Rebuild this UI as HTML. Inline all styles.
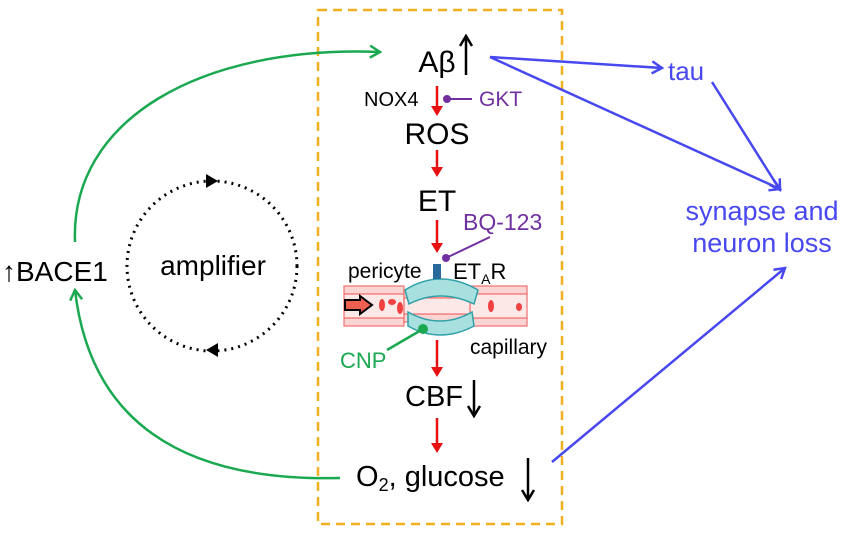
<!DOCTYPE html>
<html><head><style>body{margin:0;background:#fff}svg{display:block}text{font-family:"Liberation Sans",sans-serif}</style></head>
<body>
<svg width="853" height="534" viewBox="0 0 853 534">
<defs>
<marker id="r" markerWidth="10" markerHeight="12" refX="8" refY="6" orient="auto" markerUnits="userSpaceOnUse"><path d="M0,0 L10,6 L0,12 Z" fill="#e81010"/></marker>
<marker id="g" markerWidth="14" markerHeight="14" refX="12" refY="7" orient="auto" markerUnits="userSpaceOnUse"><path d="M2,1 L12,7 L2,13" fill="none" stroke="#1aa850" stroke-width="2.5"/></marker>
<marker id="b" markerWidth="14" markerHeight="14" refX="12" refY="7" orient="auto" markerUnits="userSpaceOnUse"><path d="M2,1 L12,7 L2,13" fill="none" stroke="#4848f0" stroke-width="2.5"/></marker>
<marker id="k" markerWidth="14" markerHeight="14" refX="12" refY="7" orient="auto" markerUnits="userSpaceOnUse"><path d="M2,1 L12,7 L2,13" fill="none" stroke="#000" stroke-width="2.5"/></marker>
</defs>
<rect x="318" y="10" width="244" height="514" fill="none" stroke="#f0b020" stroke-width="2.5" stroke-dasharray="9,6"/>
<path d="M75,242 C70,120 200,45 380,52" fill="none" stroke="#1aa850" stroke-width="2.5" marker-end="url(#g)"/>
<path d="M340,478 C180,482 90,420 75,290" fill="none" stroke="#1aa850" stroke-width="2.5" marker-end="url(#g)"/>
<circle cx="212" cy="266" r="85" fill="none" stroke="#000" stroke-width="3" stroke-dasharray="2,5"/>
<path d="M206,174 L218,181 L206,188 Z" fill="#000"/>
<path d="M218,343 L206,350 L218,357 Z" fill="#000"/>
<text x="213" y="275" font-size="28" text-anchor="middle">amplifier</text>
<text x="2" y="281" font-size="28">↑BACE1</text>
<text x="437" y="72" font-size="30" text-anchor="middle">Aβ</text>
<line x1="466" y1="75" x2="466" y2="36" stroke="#000" stroke-width="2.5" marker-end="url(#k)"/>
<text x="364" y="106" font-size="20">NOX4</text>
<line x1="437" y1="86" x2="437" y2="114" stroke="#e81010" stroke-width="2.5" marker-end="url(#r)"/>
<line x1="447" y1="99" x2="472" y2="99" stroke="#7030a0" stroke-width="2"/><circle cx="447" cy="99" r="4" fill="#7030a0"/>
<text x="479" y="106" font-size="21" fill="#7030a0">GKT</text>
<text x="437" y="144" font-size="30" text-anchor="middle">ROS</text>
<line x1="437" y1="150" x2="437" y2="175" stroke="#e81010" stroke-width="2.5" marker-end="url(#r)"/>
<text x="437" y="211" font-size="30" text-anchor="middle">ET</text>
<line x1="437" y1="220" x2="437" y2="251" stroke="#e81010" stroke-width="2.5" marker-end="url(#r)"/>
<text x="463" y="230" font-size="23" fill="#7030a0">BQ-123</text>
<line x1="446" y1="258" x2="490" y2="237" stroke="#7030a0" stroke-width="2"/><circle cx="446" cy="258" r="4" fill="#7030a0"/>
<text x="348" y="278" font-size="21">pericyte</text>
<text x="453" y="279" font-size="22">ET<tspan font-size="14" dy="5">A</tspan><tspan dy="-5">R</tspan></text>
<g stroke="#f07070" stroke-width="1.2">
<rect x="344" y="286" width="60" height="8" fill="#fbd4d4"/><rect x="344" y="318" width="60" height="8" fill="#fbd4d4"/>
<rect x="344" y="294" width="60" height="24" fill="#fde8e8"/>
<rect x="470" y="286" width="57" height="8" fill="#fbd4d4"/><rect x="470" y="318" width="57" height="8" fill="#fbd4d4"/>
<rect x="470" y="294" width="57" height="24" fill="#fde8e8"/>
<rect x="404" y="290" width="66" height="8" fill="#fbd4d4"/><rect x="404" y="314" width="66" height="8" fill="#fbd4d4"/>
<rect x="404" y="298" width="66" height="16" fill="#fde8e8"/>
</g>
<g fill="#f04040"><ellipse cx="382" cy="305" rx="3" ry="6"/><ellipse cx="392" cy="302" rx="4" ry="3"/><ellipse cx="400" cy="308" rx="3" ry="6"/><ellipse cx="491" cy="306" rx="3" ry="6"/><ellipse cx="519" cy="307" rx="3" ry="4"/></g>
<path d="M345,300 H360 V296 L372,305 L360,314 V310 H345 Z" fill="#f06050" stroke="#000" stroke-width="2"/>
<path d="M405,290 Q440,268 478,290 L474,304 Q440,288 409,304 Z" fill="#a8e0e0" stroke="#30a0a8" stroke-width="1.5"/>
<path d="M408,312 Q440,330 472,312 L474,326 Q440,344 408,326 Z" fill="#a8e0e0" stroke="#30a0a8" stroke-width="1.5"/>
<rect x="433" y="264" width="8" height="15" fill="#2a6a9a"/>
<line x1="423" y1="329" x2="387" y2="350" stroke="#1aa850" stroke-width="2.5"/><circle cx="423" cy="329" r="5" fill="#1aa850"/>
<text x="340" y="368" font-size="22" fill="#1aa850">CNP</text>
<text x="470" y="354" font-size="21">capillary</text>
<line x1="437" y1="340" x2="437" y2="375" stroke="#e81010" stroke-width="2.5" marker-end="url(#r)"/>
<text x="434" y="406" font-size="29" text-anchor="middle">CBF</text>
<line x1="474" y1="380" x2="474" y2="416" stroke="#000" stroke-width="2.5" marker-end="url(#k)"/>
<line x1="437" y1="418" x2="437" y2="451" stroke="#e81010" stroke-width="2.5" marker-end="url(#r)"/>
<text x="356" y="486" font-size="29">O<tspan font-size="18" dy="5">2</tspan><tspan dy="-5">, glucose</tspan></text>
<line x1="528" y1="458" x2="528" y2="500" stroke="#000" stroke-width="2.5" marker-end="url(#k)"/>
<line x1="490" y1="57" x2="662" y2="68" stroke="#4848f0" stroke-width="2.5" marker-end="url(#b)"/>
<line x1="490" y1="57" x2="780" y2="189" stroke="#4848f0" stroke-width="2.5" marker-end="url(#b)"/>
<line x1="712" y1="82" x2="780" y2="190" stroke="#4848f0" stroke-width="2.5" marker-end="url(#b)"/>
<line x1="552" y1="462" x2="785" y2="268" stroke="#4848f0" stroke-width="2.5" marker-end="url(#b)"/>
<text x="668" y="80" font-size="26" fill="#4848f0">tau</text>
<text x="762" y="220" font-size="27" fill="#4848f0" text-anchor="middle">synapse and</text>
<text x="762" y="252" font-size="27" fill="#4848f0" text-anchor="middle">neuron loss</text>
</svg>
</body></html>
